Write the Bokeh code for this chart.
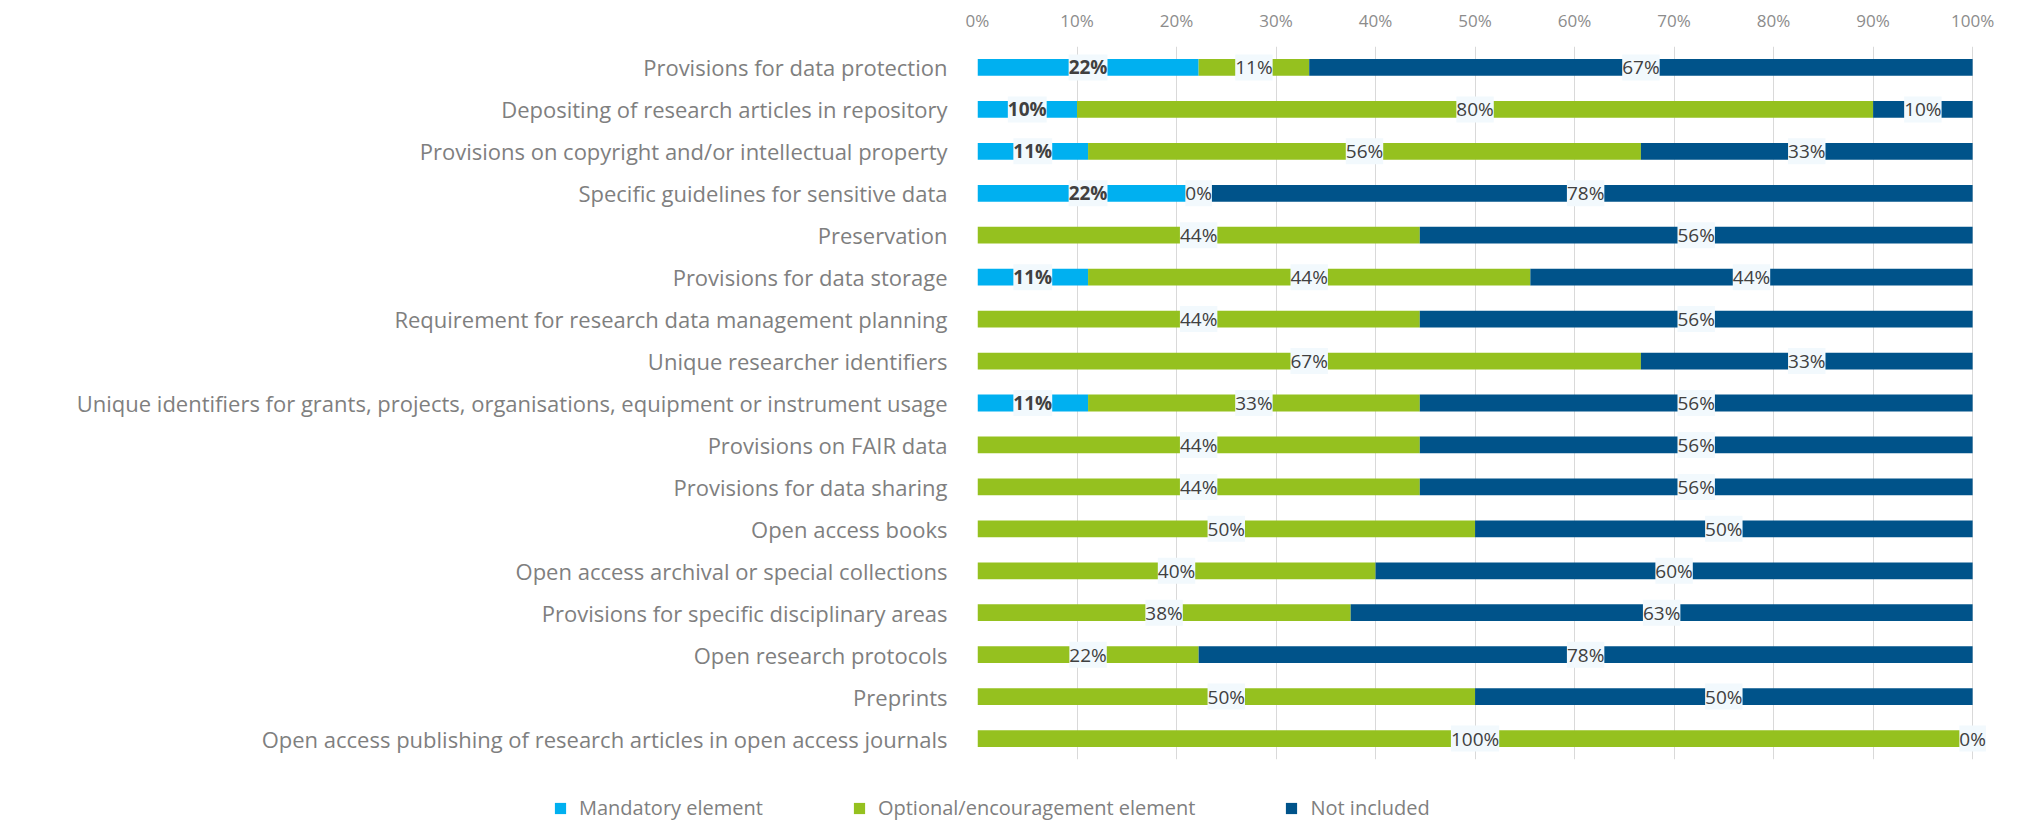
import math
from bokeh.plotting import figure
from bokeh.layouts import column
from bokeh.core.properties import value
from bokeh.models import (ColumnDataSource, FactorRange, FixedTicker, NumeralTickFormatter,
                          LabelSet, Legend, LegendItem, Range1d)
from bokeh.embed import file_html
from bokeh.resources import INLINE

categories = [
    "Provisions for data protection",
    "Depositing of research articles in repository",
    "Provisions on copyright and/or intellectual property",
    "Specific guidelines for sensitive data",
    "Preservation",
    "Provisions for data storage",
    "Requirement for research data management planning",
    "Unique researcher identifiers",
    "Unique identifiers for grants, projects, organisations, equipment or instrument usage",
    "Provisions on FAIR data",
    "Provisions for data sharing",
    "Open access books",
    "Open access archival or special collections",
    "Provisions for specific disciplinary areas",
    "Open research protocols",
    "Preprints",
    "Open access publishing of research articles in open access journals",
]
# counts of responses per category (None = element not listed)
mandatory = [2, 1, 1, 2, None, 1, None, None, 1, None, None, None, None, None, None, None, None]
optional = [1, 8, 5, 0, 4, 4, 4, 6, 3, 4, 4, 4, 2, 3, 2, 4, 9]
not_included = [6, 1, 3, 7, 5, 4, 5, 3, 5, 5, 5, 4, 3, 5, 7, 4, 0]

series_names = ["Mandatory element", "Optional/encouragement element", "Not included"]
colors = ["#00B0F0", "#95C11F", "#00538A"]
x_ticks = [0, 0.1, 0.2, 0.3, 0.4, 0.5, 0.6, 0.7, 0.8, 0.9, 1.0]

FONT = "Open Sans"

# x range a little past 100% so the "0%" label at the end is not clipped
p = figure(width=2010, height=767, output_backend="svg", toolbar_location=None,
           y_range=FactorRange(factors=list(reversed(categories)), range_padding=0),
           x_range=Range1d(0, 1.025), x_axis_location="above",
           min_border_left=977, min_border_right=13, min_border_top=46, min_border_bottom=8)
p.outline_line_color = None
p.background_fill_color = "white"
p.border_fill_color = "white"

series = [mandatory, optional, not_included]
lefts = [[0.0] * len(categories) for _ in series]
rights = [[0.0] * len(categories) for _ in series]
label_x, label_y, label_t, label_bold = [], [], [], []
for i, cat in enumerate(categories):
    total = sum(v[i] for v in series if v[i] is not None)
    acc = 0.0
    for s, vals in enumerate(series):
        v = vals[i]
        share = 0.0 if v is None else v / total
        lefts[s][i] = acc
        rights[s][i] = acc + share
        if v is not None:
            label_x.append(acc + share / 2)
            label_y.append(cat)
            label_t.append("%d%%" % math.floor(share * 100 + 0.5))
            label_bold.append(s == 0)
        acc += share

for s in range(3):
    src = ColumnDataSource(dict(y=categories, left=lefts[s], right=rights[s]))
    p.hbar(y="y", left="left", right="right", height=0.4, source=src,
           fill_color=colors[s], line_color=None)

for bold in (False, True):
    idx = [k for k in range(len(label_x)) if label_bold[k] == bold]
    lsrc = ColumnDataSource(dict(x=[label_x[k] for k in idx], y=[label_y[k] for k in idx],
                                 t=[label_t[k] for k in idx]))
    labels = LabelSet(x="x", y="y", text="t", source=lsrc, text_align="center",
                      text_baseline="middle", text_font=value(FONT), text_font_size="19px",
                      text_color="#404040", text_font_style="bold" if bold else "normal",
                      background_fill_color="#F2F9FD", background_fill_alpha=1.0)
    p.add_layout(labels)

# axes
p.xaxis.ticker = FixedTicker(ticks=x_ticks)
p.xaxis.formatter = NumeralTickFormatter(format="0%")
p.xaxis.axis_line_color = None
p.xaxis.major_tick_line_color = None
p.xaxis.minor_tick_line_color = None
p.xaxis.major_label_text_font = FONT
p.xaxis.major_label_text_font_size = "17px"
p.xaxis.major_label_text_color = "#8C8C8C"
p.xaxis.major_label_standoff = 9

p.yaxis.axis_line_color = None
p.yaxis.major_tick_line_color = None
p.yaxis.minor_tick_line_color = None
p.yaxis.major_label_text_font = FONT
p.yaxis.major_label_text_font_size = "22px"
p.yaxis.major_label_text_color = "#7F7F7F"
p.yaxis.major_label_standoff = 24

p.xgrid.grid_line_color = "#D9D9D9"
p.xgrid.grid_line_width = 1
p.ygrid.grid_line_color = None

# legend in its own strip below the chart
lg = figure(width=2000, height=56, output_backend="svg", toolbar_location=None,
            x_range=Range1d(0, 1), y_range=Range1d(0, 1),
            min_border=0, min_border_left=0, min_border_right=0,
            min_border_top=0, min_border_bottom=0)
if hasattr(lg, "frame_align"):
    lg.frame_align = False
lg.axis.visible = False
lg.grid.visible = False
lg.outline_line_color = None
leg_renderers = []
for s in range(3):
    # a swatch placed outside the visible range, only used for the legend key
    r = lg.quad(left=[5], right=[6], top=[6], bottom=[5], fill_color=colors[s], line_color=None)
    leg_renderers.append(r)
items = [LegendItem(label=series_names[s], renderers=[leg_renderers[s]]) for s in range(3)]
legend = Legend(items=items, orientation="horizontal", location=(553, 2),
                glyph_width=14, glyph_height=14, label_standoff=12, spacing=89,
                label_text_font=FONT, label_text_font_size="20px", label_text_color="#7F7F7F",
                border_line_color=None, background_fill_alpha=0, padding=0, margin=0)
lg.add_layout(legend, "center")

layout = column(p, lg, spacing=0)
open("out.html", "w").write(file_html(layout, INLINE))
